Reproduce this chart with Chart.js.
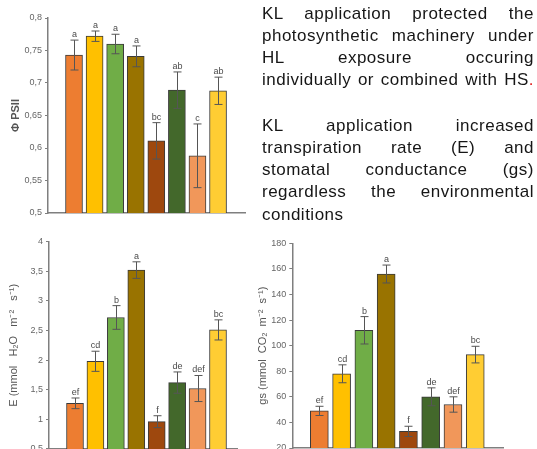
<!DOCTYPE html>
<html>
<head>
<meta charset="utf-8">
<script src="https://cdn.jsdelivr.net/npm/chart.js@4/dist/chart.umd.min.js"></script>
<style>
  body { margin: 0; background: #fff; width: 537px; height: 449px; overflow: hidden; position: relative; }
  canvas { position: absolute; }
  #notes { position: absolute; left: 262px; top: 2.6px; width: 272px; font-family: "Liberation Sans", Arial, sans-serif; font-size: 17px; letter-spacing: 0.5px; line-height: 22.2px; color: #161616; }
  #notes div { text-align: justify; text-align-last: justify; }
  #notes div.last { text-align-last: left; }
  #notes .gap { height: 23.4px; }
</style>
</head>
<body>
<canvas id="psiiChart" width="252" height="225" style="left:0;top:0"></canvas>
<canvas id="eChart" width="262" height="232" style="left:0;top:230px"></canvas>
<canvas id="gsChart" width="282" height="232" style="left:255px;top:230px"></canvas>
<div id="notes">
  <div>KL application protected the</div>
  <div>photosynthetic machinery under</div>
  <div>HL exposure occuring</div>
  <div>individually or combined with HS<span style="color:#e02020">.</span></div>
  <div class="gap"></div>
  <div>KL application increased</div>
  <div>transpiration rate (E) and</div>
  <div>stomatal conductance (gs)</div>
  <div>regardless the environmental</div>
  <div class="last">conditions</div>
</div>
<script>
// treatments, left to right
const treatments = ["T1", "T2", "T3", "T4", "T5", "T6", "T7", "T8"];
const barColors = ["#ED7D31", "#FFC000", "#70AD47", "#997300", "#9E480E", "#43682B", "#F1975A", "#FFCD33"];

// Φ PSII
const psiiValues = [0.743, 0.772, 0.760, 0.741, 0.611, 0.689, 0.588, 0.688];
const psiiErrors = [0.023, 0.008, 0.015, 0.016, 0.028, 0.028, 0.049, 0.021];
const psiiLetters = ["a", "a", "a", "a", "bc", "ab", "c", "ab"];

// transpiration rate E
const eValues = [1.27, 1.98, 2.72, 3.52, 0.96, 1.62, 1.52, 2.51];
const eErrors = [0.09, 0.17, 0.20, 0.14, 0.10, 0.18, 0.22, 0.17];
const eLetters = ["ef", "cd", "b", "a", "f", "de", "def", "bc"];

// stomatal conductance gs
const gsValues = [49, 78, 112, 156, 33, 60, 54, 93];
const gsErrors = [3.6, 7, 10.7, 7, 4, 7, 6, 6.5];
const gsLetters = ["ef", "cd", "b", "a", "f", "de", "def", "bc"];

const FONT = "'Liberation Sans', Arial, sans-serif";
const commaTick = v => String(Math.round(v * 100) / 100).replace(".", ",");

// error bars + letters on top of each bar
const errorBarPlugin = {
    id: "errorBars",
    afterDatasetsDraw(chart) {
        const ctx = chart.ctx;
        const y = chart.scales.y;
        const opts = chart.options.plugins.errorBars;
        const meta = chart.getDatasetMeta(0);
        ctx.save();
        ctx.strokeStyle = "#555";
        ctx.lineWidth = 1;
        meta.data.forEach((bar, i) => {
            const v = opts.values[i], e = opts.errors[i];
            const x = Math.round(bar.x) + 0.5;
            const top = y.getPixelForValue(v + e);
            const bot = y.getPixelForValue(v - e);
            ctx.beginPath();
            ctx.moveTo(x, top); ctx.lineTo(x, bot);
            ctx.moveTo(x - 4, top); ctx.lineTo(x + 4, top);
            ctx.moveTo(x - 4, bot); ctx.lineTo(x + 4, bot);
            ctx.stroke();
            ctx.fillStyle = "#4a4a4a";
            ctx.font = "9px " + FONT;
            ctx.textAlign = "center";
            ctx.textBaseline = "bottom";
            ctx.fillText(opts.letters[i], x, top - 1);
        });
        ctx.restore();
    }
};

function makeChart(id, values, errors, letters, cfg) {
    new Chart(document.getElementById(id), {
        type: "bar",
        data: {
            labels: treatments,
            datasets: [{
                data: values.map((v, i) => ({ x: i + 1, y: v })),
                backgroundColor: barColors,
                borderColor: "#3a3a3a",
                borderWidth: 1,
                borderSkipped: false,
                barThickness: cfg.barWidth
            }]
        },
        options: {
            responsive: false,
            animation: false,
            layout: { padding: cfg.padding },
            plugins: {
                legend: { display: false },
                tooltip: { enabled: false },
                errorBars: { values, errors, letters }
            },
            scales: {
                x: {
                    type: "linear",
                    offset: false,
                    min: cfg.xMin, max: cfg.xMax,
                    ticks: { display: false },
                    grid: { display: false },
                    border: { display: true, color: "#7f7f7f", width: 1.5 },
                    afterFit: s => { s.height = 0; }
                },
                y: {
                    min: cfg.yMin, max: cfg.yMax,
                    ticks: { stepSize: cfg.step, callback: commaTick, color: "#666", padding: 3, font: { size: 9, family: FONT } },
                    grid: { drawOnChartArea: false, drawTicks: true, tickLength: 3, color: "#7f7f7f" },
                    border: { display: true, color: "#7f7f7f", width: 1.5 },
                    title: { display: true, text: cfg.title, color: "#555", padding: { top: cfg.titlePad, bottom: 0 }, font: { size: cfg.titleSize, weight: cfg.titleWeight, family: FONT } },
                    afterFit: s => { s.width = cfg.axisX; }
                }
            }
        },
        plugins: [errorBarPlugin]
    });
}

makeChart("psiiChart", psiiValues, psiiErrors, psiiLetters, {
    padding: { top: 18, bottom: 12, right: 7, left: 0 },
    axisX: 48, xMin: -0.264, xMax: 9.31, barWidth: 17,
    yMin: 0.5, yMax: 0.8, step: 0.05,
    title: "Φ PSII", titleSize: 11, titleWeight: "bold", titlePad: 9.4
});

makeChart("eChart", eValues, eErrors, eLetters, {
    padding: { top: 11.7, bottom: 13.1, right: 25, left: 0 },
    axisX: 49, xMin: -0.273, xMax: 8.93, barWidth: 17,
    yMin: 0.5, yMax: 4, step: 0.5,
    title: "E (mmol   H₂O   m⁻²   s⁻¹)", titleSize: 11, titleWeight: "normal", titlePad: 7.4
});

makeChart("gsChart", gsValues, gsErrors, gsLetters, {
    padding: { top: 13.3, bottom: 14, right: 34, left: 0 },
    axisX: 37.3, xMin: -0.214, xMax: 9.246, barWidth: 18,
    yMin: 20, yMax: 180, step: 20,
    title: "gs (mmol  CO₂  m⁻²  s⁻¹)", titleSize: 11, titleWeight: "normal", titlePad: 1
});
</script>
</body>
</html>
